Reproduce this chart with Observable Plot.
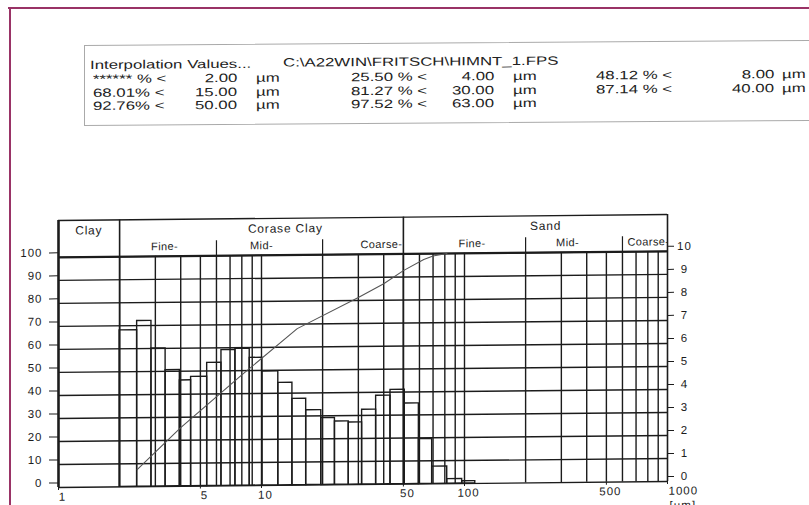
<!DOCTYPE html>
<html><head><meta charset="utf-8">
<script src="https://cdn.jsdelivr.net/npm/d3@7"></script>
<script src="https://cdn.jsdelivr.net/npm/@observablehq/plot@0.6"></script>
<style>
body{margin:0;background:#fff;}
#page{position:relative;width:809px;height:505px;overflow:hidden;background:#fff;font-family:"Liberation Sans",Arial,sans-serif;color:#222;}
.pl{position:absolute;background:#993366;}
#chartWrap{position:absolute;left:0;top:0;width:809px;height:505px;transform:skewY(-0.56deg);transform-origin:58px 487px;}
#boxWrap{position:absolute;left:0;top:0;width:809px;height:505px;transform:skewY(-0.4deg);transform-origin:84px 85px;}
#box{position:absolute;left:84px;top:45px;width:760px;height:79px;border:1.5px solid #aaa;}
.t{position:absolute;font-size:12px;line-height:12px;white-space:nowrap;transform-origin:left center;transform:scaleX(1.4);}
.t.r{transform-origin:right center;}
</style>
</head>
<body>
<div id="page">
  <div id="boxWrap"><div id="box"></div></div>
  <div id="chartWrap"></div>
  <div class="pl" style="left:8px;top:6.5px;width:801px;height:2px"></div>
  <div class="pl" style="left:9px;top:6.5px;width:2px;height:500px"></div>
</div>
<script>
// ---------- data ----------
// histogram class edges (µm) and frequencies (% per class, right axis 0-10)
const binEdges = [2.0, 2.44, 2.87, 3.37, 3.96, 4.5, 5.4, 6.35, 7.44, 8.75, 10.1, 12.1, 14.2, 16.6, 19.7, 23.0, 26.9, 31.3, 36.7, 43.2, 50.8, 59.6, 69.3, 82.2, 97.4, 113];
const binFreq  = [6.8, 7.2, 6.0, 5.05, 4.6, 4.75, 5.35, 5.9, 5.95, 5.55, 4.95, 4.45, 3.75, 3.25, 2.9, 2.75, 2.7, 3.25, 3.85, 4.1, 3.5, 1.95, 0.75, 0.2, 0.1];
// cumulative curve (µm, % passing, left axis)
const cumSize = [2.44, 4, 8, 15, 30, 40, 50, 63, 70, 82];
const cumPct  = [7.4, 25.5, 48.12, 68.01, 81.27, 87.14, 92.76, 97.52, 99.0, 100];
// axes / grid
const pctTicks  = [0, 10, 20, 30, 40, 50, 60, 70, 80, 90, 100];
const sizeTicks = [1, 5, 10, 50, 100, 500];
const sizeEnd = 1000;
const sizeGrid  = [2,3,4,5,6,7,8,9,10,20,30,40,50,60,70,80,90,100,200,300,400,500,600,700,800,900];
const classBounds = [2, 50];
const subBounds = [6, 20, 200, 600];
const classNames = ["Clay", "Corase Clay", "Sand"];
const subNamesMid = ["Fine-", "Mid-", "Fine-", "Mid-"];
const subNameCoarse = "Coarse-";
const unitLabel = "[µm]";
// text box
const boxTitle = "Interpolation Values...";
const boxFile = "C:\\A22WIN\\FRITSCH\\HIMNT_1.FPS";
const interpLabels = ["****** % <","25.50 % <","48.12 % <","68.01% <","81.27 % <","87.14 % <","92.76% <","97.52 % <"];
const interpSizes  = ["2.00","4.00","8.00","15.00","30.00","40.00","50.00","63.00"];
const sizeUnit = "µm";

// ---------- layout (positions, not data) ----------
const classPos = [1.41, 13.1, 251];
const subMidPos = [3.33, 10, 109, 322];
const colLabelX = [93, 351, 596], colNumR = [237, 494, 774], colUnitX = [256, 513, 782], rowY = [79, 92.5, 105.5];

// ---------- text box ----------
const boxWrap = document.getElementById("boxWrap");
function addT(str, x, y, right) {
  const d = document.createElement("div");
  d.className = "t" + (right ? " r" : "");
  d.textContent = str;
  d.style.top = (y - 6) + "px";
  if (right) d.style.right = (809 - x) + "px"; else d.style.left = x + "px";
  boxWrap.appendChild(d);
}
addT(boxTitle, 90, 65);
addT(boxFile, 283, 64);
interpLabels.forEach((lab, i) => {
  const r = Math.floor(i / 3), c = i % 3;
  addT(lab, colLabelX[c], rowY[r]);
  addT(interpSizes[i], colNumR[c], rowY[r], true);
  addT(sizeUnit, colUnitX[c], rowY[r]);
});

// ---------- chart ----------
const ink = "#1c1c1c";
const bins = binFreq.map((f, i) => ({lo: binEdges[i], hi: binEdges[i + 1], f}));
const curve = cumSize.map((s, i) => ({s, p: cumPct[i]}));

const chart = Plot.plot({
  width: 809, height: 505,
  marginLeft: 58, marginRight: 142, marginTop: 220, marginBottom: 18,
  style: {background: "transparent", fontFamily: '"Liberation Sans", Arial, sans-serif', fontSize: "11.5px", letterSpacing: "1px", color: ink, overflow: "visible"},
  x: {type: "log", domain: [1, 1000], label: null, axis: null},
  y: {domain: [0, 116], label: null},
  marks: [
    Plot.ruleY(pctTicks, {x1: 1, x2: 1000, stroke: ink, strokeWidth: 1.4}),
    Plot.ruleY([100], {x1: 1, x2: 1000, stroke: ink, strokeWidth: 2.2}),
    Plot.ruleX(sizeGrid, {y1: 0, y2: 100, stroke: ink, strokeWidth: 1.4}),
    Plot.ruleX(classBounds, {y1: 0, y2: 116, stroke: ink, strokeWidth: 1.6}),
    Plot.ruleX([1], {y1: 0, y2: 116, stroke: ink, strokeWidth: 2.6}),
    Plot.ruleX([sizeEnd], {y1: 0, y2: 116, stroke: ink, strokeWidth: 1.6}),
    Plot.ruleY([116], {x1: 1, x2: 1000, stroke: ink, strokeWidth: 1.4}),
    Plot.ruleX(subBounds, {y1: 100, y2: 106.5, stroke: ink, strokeWidth: 1.2}),
    Plot.rectY(bins, {x1: "lo", x2: "hi", y: d => d.f * 10, fill: "none", stroke: ink, strokeWidth: 1.4}),
    Plot.line(curve, {x: "s", y: "p", stroke: "#555", strokeWidth: 1.1}),
    Plot.text(classNames, {x: (d, i) => classPos[i], y: 111.5, text: d => d, fontSize: 12, fill: ink}),
    Plot.text(subNamesMid, {x: (d, i) => subMidPos[i], y: 104.2, text: d => d, fontSize: 11, fill: ink}),
    Plot.text([subNameCoarse], {x: () => 50, y: 104.2, text: d => d, fontSize: 11, textAnchor: "end", dx: -1, fill: ink}),
    Plot.text([subNameCoarse], {x: () => 635, y: 104.2, text: d => d, fontSize: 11, textAnchor: "start", clip: true, fill: ink}),
    Plot.axisY(pctTicks, {anchor: "left", tickSize: 9, tickPadding: 7, dy: -4.5, label: null}),
    Plot.axisY(pctTicks, {anchor: "right", tickSize: 6, tickPadding: 11, textAnchor: "middle", tickFormat: d => String(d / 10), dy: -5, label: null}),
    // bottom ticks and labels
    Plot.ruleX(sizeTicks.concat([sizeEnd]), {y1: -1.3, y2: 0, stroke: ink, strokeWidth: 1}),
    Plot.text(sizeTicks, {x: d => d, frameAnchor: "bottom", lineAnchor: "top", dy: 5, dx: 4, text: d => String(d), fill: ink}),
    Plot.text([sizeEnd], {x: d => d, frameAnchor: "bottom", lineAnchor: "top", dy: 5, dx: 1, textAnchor: "start", text: d => String(d), fill: ink}),
    Plot.text([sizeEnd], {x: d => d, frameAnchor: "bottom", lineAnchor: "middle", dy: 24, dx: 2, textAnchor: "start", text: () => unitLabel, fill: ink})
  ]
});
chart.style.position = "absolute";
chart.style.left = "0px";
chart.style.top = "0px";
// the scanned original's lettering is wide: adjust letter spacing per font size
chart.querySelectorAll('g[font-size="12"]').forEach(g => g.style.letterSpacing = "0.8px");
chart.querySelectorAll('g[font-size="11"]').forEach(g => g.style.letterSpacing = "0.4px");
document.getElementById("chartWrap").appendChild(chart);
</script>
</body></html>
